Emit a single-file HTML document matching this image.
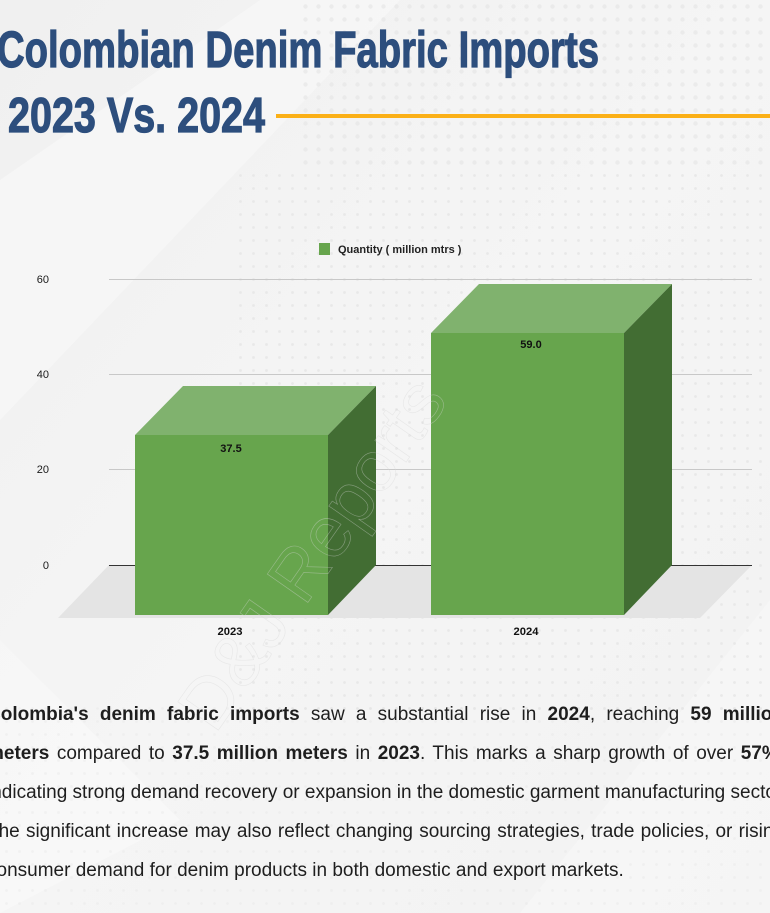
<!DOCTYPE html>
<html>
<head>
<meta charset="utf-8">
<style>
  html,body{margin:0;padding:0;}
  body{width:770px;height:913px;overflow:hidden;position:relative;background:#f3f3f3;font-family:"Liberation Sans",sans-serif;}
  svg{position:absolute;left:0;top:0;}
  .para{position:absolute;left:-13px;top:695px;width:797px;font-size:19px;letter-spacing:0px;color:#1e1e1e;}
  .para div{height:39px;line-height:39px;white-space:nowrap;text-align:justify;text-align-last:justify;}
  .para div.last{text-align:left;text-align-last:left;}
  b{font-weight:bold;}
</style>
</head>
<body>
<svg width="770" height="913" viewBox="0 0 770 913" xmlns="http://www.w3.org/2000/svg">
  <defs>
    <pattern id="dots" width="13" height="13" patternUnits="userSpaceOnUse">
      <circle cx="6.5" cy="6.5" r="1.4" fill="#e3e3e3"/>
    </pattern>
    <pattern id="dotsBig" width="13" height="13" patternUnits="userSpaceOnUse">
      <circle cx="6.5" cy="6.5" r="2.2" fill="#e6e6e6"/>
    </pattern>
    <linearGradient id="bg" x1="0" y1="0" x2="1" y2="1">
      <stop offset="0" stop-color="#f0f0f0"/>
      <stop offset="0.5" stop-color="#f5f5f5"/>
      <stop offset="1" stop-color="#f2f2f2"/>
    </linearGradient>
  </defs>
  <rect x="0" y="0" width="770" height="913" fill="url(#bg)"/>
  <polygon points="0,180 260,0 400,0 0,420" fill="#ffffff" opacity="0.35"/>
  <polygon points="0,640 180,820 0,913" fill="#ffffff" opacity="0.3"/>
  <polygon points="520,913 770,600 770,913" fill="#ffffff" opacity="0.25"/>
  <rect x="300" y="0" width="470" height="170" fill="url(#dotsBig)" opacity="0.7"/>
  <rect x="230" y="170" width="540" height="540" fill="url(#dots)" opacity="0.7"/>
  <rect x="0" y="700" width="770" height="213" fill="url(#dots)" opacity="0.35"/>

  <!-- Title -->
  <text x="-3" y="67" font-family="Liberation Sans, sans-serif" font-weight="bold" font-size="51" fill="#2d4e7d" textLength="602" lengthAdjust="spacingAndGlyphs" stroke="#2d4e7d" stroke-width="1.2">Colombian Denim Fabric Imports</text>
  <text x="8" y="132" font-family="Liberation Sans, sans-serif" font-weight="bold" font-size="49" fill="#2d4e7d" textLength="257" lengthAdjust="spacingAndGlyphs" stroke="#2d4e7d" stroke-width="1.2">2023 Vs. 2024</text>
  <rect x="276" y="114" width="494" height="4" fill="#fbb017"/>

  <!-- Legend -->
  <rect x="319" y="243" width="11" height="12" fill="#67a54d"/>
  <text x="338" y="253" font-family="Liberation Sans, sans-serif" font-weight="bold" font-size="11" fill="#222">Quantity ( million mtrs )</text>

  <!-- floor -->
  <polygon points="109,565 752,565 700,618 58,618" fill="#e4e4e4"/>

  <!-- gridlines -->
  <g stroke="#c8c8c8" stroke-width="1">
    <line x1="109" y1="279.5" x2="752" y2="279.5"/>
    <line x1="109" y1="374.5" x2="752" y2="374.5"/>
    <line x1="109" y1="469.5" x2="752" y2="469.5"/>
  </g>
  <line x1="109" y1="565.5" x2="752" y2="565.5" stroke="#333" stroke-width="1"/>

  <!-- y labels -->
  <g font-family="Liberation Sans, sans-serif" font-size="11" fill="#1a1a1a" text-anchor="end">
    <text x="49" y="283">60</text>
    <text x="49" y="378">40</text>
    <text x="49" y="473">20</text>
    <text x="49" y="569">0</text>
  </g>

  <!-- Bar 2023 -->
  <polygon points="135,435 183,386 376,386 328,435" fill="#80b26e"/>
  <polygon points="328,435 376,386 376,565 328,615" fill="#426d33"/>
  <rect x="135" y="435" width="193" height="180" fill="#67a54d"/>
  <!-- Bar 2024 -->
  <polygon points="431,333 479,284 672,284 624,333" fill="#80b26e"/>
  <polygon points="624,333 672,284 672,565 624,615" fill="#426d33"/>
  <rect x="431" y="333" width="193" height="282" fill="#67a54d"/>

  <!-- watermark -->
  <text x="0" y="0" transform="translate(215,735) rotate(-55)" font-family="Liberation Sans, sans-serif" font-size="72" fill="none" stroke="#d6d6d6" stroke-width="0.6" opacity="0.45">D&amp;J Reports</text>

  <!-- value labels -->
  <g font-family="Liberation Sans, sans-serif" font-weight="bold" font-size="11" fill="#111" text-anchor="middle">
    <text x="231" y="452">37.5</text>
    <text x="531" y="348">59.0</text>
  </g>

  <!-- x labels -->
  <g font-family="Liberation Sans, sans-serif" font-weight="bold" font-size="11" fill="#111" text-anchor="middle">
    <text x="230" y="635" textLength="25" lengthAdjust="spacingAndGlyphs">2023</text>
    <text x="526" y="635" textLength="25" lengthAdjust="spacingAndGlyphs">2024</text>
  </g>
</svg>

<div class="para">
  <div><b>Colombia's denim fabric imports</b> saw a substantial rise in <b>2024</b>, reaching <b>59 million</b></div>
  <div><b>meters</b> compared to <b>37.5 million meters</b> in <b>2023</b>. This marks a sharp growth of over <b>57%</b>,</div>
  <div>indicating strong demand recovery or expansion in the domestic garment manufacturing sector.</div>
  <div>The significant increase may also reflect changing sourcing strategies, trade policies, or rising</div>
  <div class="last">consumer demand for denim products in both domestic and export markets.</div>
</div>
</body>
</html>
